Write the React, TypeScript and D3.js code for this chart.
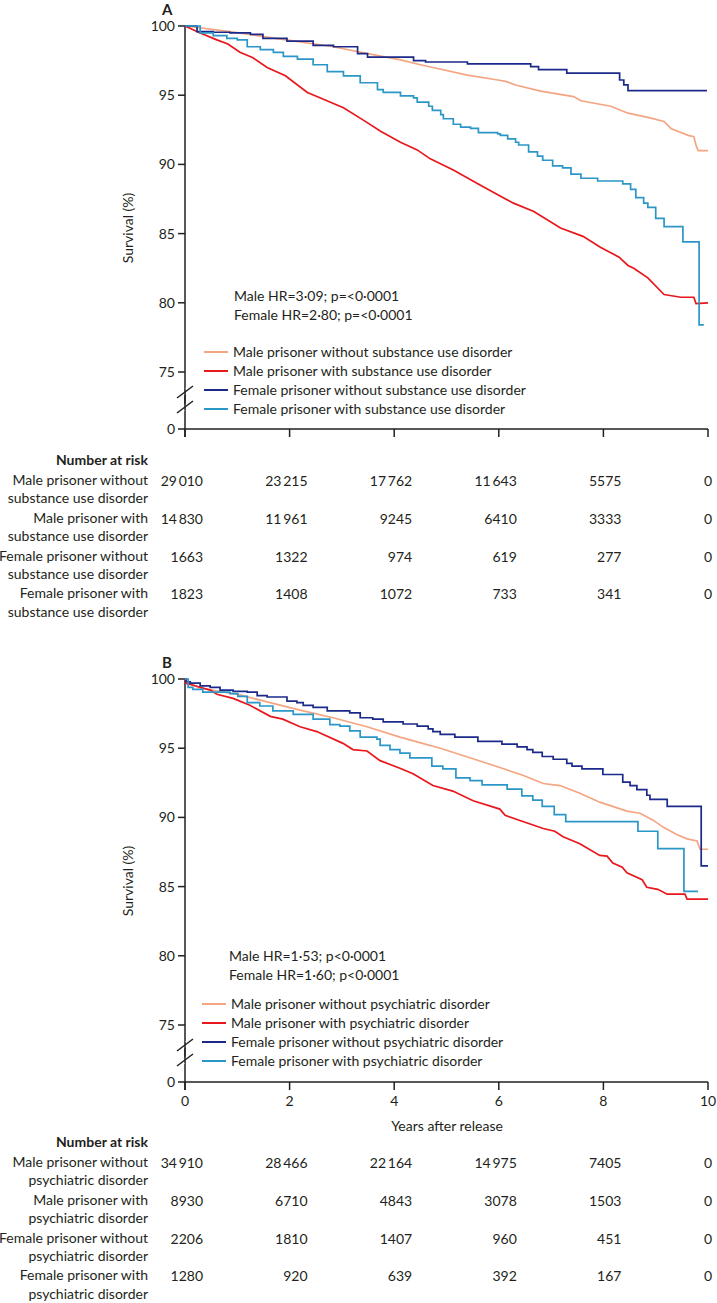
import * as d3 from 'd3'

type Pt = [number, number]

const riskYears = [0, 2, 4, 6, 8, 10]
const survivalTicks = [75, 80, 85, 90, 95, 100]
const seriesColors = ['#f4a582', '#e8171c', '#1b2a8a', '#2a97c7']
// smooth (large groups) vs step (small groups)
const stepped = [false, false, true, true]

// Panel A: substance use disorder
const maleWithoutSudA: Pt[] = [[0,100],[0.86,99.6],[1.57,99.2],[2.2,98.85],[2.84,98.5],[3.49,98.0],[4.12,97.55],[4.5,97.2],[4.74,97.0],[5.4,96.45],[5.98,96.1],[6.13,96.0],[6.32,95.74],[6.8,95.3],[7.43,94.9],[7.57,94.6],[8.14,94.2],[8.47,93.7],[8.85,93.4],[9.16,93.1],[9.29,92.6],[9.62,92.1],[9.73,92.0],[9.77,91.4],[9.81,91.0],[10,91.0]]
const maleWithSudA: Pt[] = [[0,100],[0.29,99.5],[0.61,99.0],[0.82,98.7],[1.05,98.1],[1.3,97.7],[1.57,97.0],[1.92,96.4],[2.34,95.2],[2.59,94.8],[3.03,94.1],[3.41,93.2],[3.74,92.4],[4.12,91.6],[4.44,91.05],[4.69,90.4],[5.13,89.6],[5.65,88.5],[6.13,87.5],[6.28,87.2],[6.67,86.6],[7.18,85.4],[7.61,84.8],[7.95,84.0],[8.3,83.3],[8.47,82.7],[8.58,82.5],[8.85,81.8],[9.16,80.6],[9.48,80.4],[9.73,80.4],[9.77,79.95],[10,80.0]]
const femaleWithoutSudA: Pt[] = [[0,100],[0.23,99.6],[0.54,99.55],[0.86,99.5],[1.25,99.4],[1.49,99.1],[1.95,98.9],[2.45,98.6],[2.84,98.5],[3.3,98.0],[3.49,97.75],[4.37,97.5],[4.6,97.4],[5.4,97.26],[6.61,97.06],[6.76,96.85],[7.3,96.6],[8.31,96.1],[8.39,95.74],[8.47,95.33],[9.98,95.33]]
const femaleWithSudA: Pt[] = [[0,100],[0.29,99.5],[0.54,99.3],[0.8,99.1],[1.0,99.0],[1.19,98.5],[1.44,98.3],[1.69,98.1],[1.88,97.8],[2.15,97.6],[2.45,97.2],[2.72,96.7],[3.03,96.4],[3.35,95.9],[3.68,95.4],[3.79,95.2],[4.12,94.95],[4.37,94.8],[4.44,94.5],[4.66,94.2],[4.73,93.9],[4.89,93.6],[4.94,93.3],[5.13,92.9],[5.27,92.7],[5.46,92.6],[5.61,92.3],[5.98,92.2],[6.03,92.1],[6.17,91.85],[6.32,91.6],[6.38,91.4],[6.57,90.9],[6.74,90.6],[6.84,90.3],[7.03,89.9],[7.22,89.75],[7.38,89.3],[7.57,89.0],[7.89,88.8],[8.37,88.6],[8.52,88.2],[8.62,87.6],[8.77,87.2],[8.85,86.9],[9.0,86.1],[9.16,85.5],[9.52,84.4],[9.83,78.4],[9.92,78.4]]

// Panel B: psychiatric disorder
const maleWithoutPsyB: Pt[] = [[0,100],[0.02,99.8],[0.29,99.35],[1.05,98.85],[1.57,98.35],[2.2,97.75],[2.83,97.2],[3.48,96.55],[4.11,95.8],[4.49,95.4],[4.88,95.0],[5.7,94.0],[6.46,93.05],[6.85,92.45],[7.17,92.3],[7.55,91.75],[7.93,91.1],[8.45,90.45],[8.7,90.3],[8.95,89.8],[9.14,89.3],[9.41,88.75],[9.6,88.45],[9.79,88.3],[9.85,87.7],[10,87.7]]
const maleWithPsyB: Pt[] = [[0,100],[0.01,99.7],[0.29,99.4],[0.48,99.2],[0.61,98.9],[0.92,98.6],[1.24,98.1],[1.63,97.3],[1.87,97.1],[2.2,96.55],[2.52,96.2],[3.02,95.35],[3.21,94.9],[3.48,94.8],[3.73,94.1],[4.11,93.55],[4.36,93.15],[4.74,92.3],[5.12,91.9],[5.51,91.2],[6.02,90.6],[6.12,90.15],[6.46,89.7],[6.85,89.2],[7.07,89.0],[7.23,88.6],[7.55,88.1],[7.93,87.25],[8.07,87.2],[8.18,86.7],[8.36,86.4],[8.45,86.0],[8.74,85.5],[8.83,84.95],[9.04,84.8],[9.22,84.45],[9.56,84.45],[9.6,84.1],[10,84.1]]
const femaleWithoutPsyB: Pt[] = [[0,100],[0.02,99.8],[0.1,99.7],[0.29,99.5],[0.48,99.4],[0.67,99.2],[0.92,99.1],[1.19,99.05],[1.38,98.8],[1.57,98.7],[1.95,98.4],[2.14,98.3],[2.26,98.1],[2.45,97.95],[2.72,97.7],[3.15,97.55],[3.35,97.2],[3.59,97.1],[3.79,96.9],[4.17,96.75],[4.44,96.6],[4.65,96.4],[4.74,96.2],[4.88,96.0],[5.16,95.8],[5.6,95.5],[6.06,95.3],[6.35,95.1],[6.54,94.9],[6.65,94.7],[6.83,94.4],[7.04,94.2],[7.3,93.9],[7.4,93.7],[7.59,93.5],[7.99,93.1],[8.37,92.55],[8.51,92.3],[8.64,92.0],[8.83,91.6],[8.89,91.3],[9.22,90.8],[9.87,86.5],[10,86.5]]
const femaleWithPsyB: Pt[] = [[0,100],[0.06,99.4],[0.15,99.25],[0.34,99.05],[0.86,98.95],[1.01,98.75],[1.19,98.3],[1.43,98.05],[1.68,97.7],[2.07,97.45],[2.45,97.1],[2.77,96.7],[2.96,96.6],[3.15,96.25],[3.35,95.8],[3.67,95.65],[3.73,95.2],[3.92,94.9],[4.11,94.65],[4.3,94.3],[4.72,93.7],[4.93,93.5],[5.18,92.85],[5.45,92.65],[5.68,92.35],[6.16,92.05],[6.44,91.55],[6.65,91.25],[6.83,90.8],[7.06,90.2],[7.28,89.7],[8.66,89.0],[9.04,87.75],[9.54,84.65],[9.81,84.65]]

const legendA = [
  'Male prisoner without substance use disorder',
  'Male prisoner with substance use disorder',
  'Female prisoner without substance use disorder',
  'Female prisoner with substance use disorder',
]
const legendB = [
  'Male prisoner without psychiatric disorder',
  'Male prisoner with psychiatric disorder',
  'Female prisoner without psychiatric disorder',
  'Female prisoner with psychiatric disorder',
]
const hrA = ['Male HR=3·09; p=<0·0001', 'Female HR=2·80; p=<0·0001']
const hrB = ['Male HR=1·53; p<0·0001', 'Female HR=1·60; p<0·0001']

const riskLabelsA = [
  ['Male prisoner without', 'substance use disorder'],
  ['Male prisoner with', 'substance use disorder'],
  ['Female prisoner without', 'substance use disorder'],
  ['Female prisoner with', 'substance use disorder'],
]
const riskLabelsB = [
  ['Male prisoner without', 'psychiatric disorder'],
  ['Male prisoner with', 'psychiatric disorder'],
  ['Female prisoner without', 'psychiatric disorder'],
  ['Female prisoner with', 'psychiatric disorder'],
]
const riskA = [
  [29010, 23215, 17762, 11643, 5575, 0],
  [14830, 11961, 9245, 6410, 3333, 0],
  [1663, 1322, 974, 619, 277, 0],
  [1823, 1408, 1072, 733, 341, 0],
]
const riskB = [
  [34910, 28466, 22164, 14975, 7405, 0],
  [8930, 6710, 4843, 3078, 1503, 0],
  [2206, 1810, 1407, 960, 451, 0],
  [1280, 920, 639, 392, 167, 0],
]

const FONT = 'Lato, "Noto Sans", sans-serif'
const FS = 14

const fmt = (n: number) => {
  const s = String(n)
  return n >= 10000 ? s.slice(0, -3) + '\u2009' + s.slice(-3) : s
}

const x = d3.scaleLinear().domain([0, 10]).range([185, 708])

function Panel(props: {
  dy: number
  letter: string
  series: Pt[][]
  hr: string[]
  hrTop: number
  hrX: number
  legend: string[]
  legendTop: number
  legendX: number
  riskLabels: string[][]
  risk: number[][]
  tableTop: number
  xLabels: boolean
}) {
  const { dy } = props
  const y = d3.scaleLinear().domain([75, 100]).range([372 + dy, 26 + dy])
  const zeroY = 429 + dy
  const x0 = x(0)
  const lineSmooth = d3.line<Pt>().x(d => x(d[0])).y(d => y(d[1])).curve(d3.curveLinear)
  const lineStep = d3.line<Pt>().x(d => x(d[0])).y(d => y(d[1])).curve(d3.curveStepAfter)
  const breaks = [392 + dy, 407 + dy]

  return (
    <g fontFamily={FONT} fontSize={FS} fill="#231f20">
      <text x={162} y={10 + dy} dy="0.35em" fontWeight="bold" fontSize={15}>{props.letter}</text>
      <text transform={`translate(128,${228 + dy}) rotate(-90)`} textAnchor="middle" dy="0.35em">Survival (%)</text>

      {/* y axis */}
      <line x1={x0} x2={x0} y1={y(100)} y2={zeroY + 8} stroke="#231f20" strokeWidth={1.5} />
      {survivalTicks.map(t => (
        <g key={t}>
          <line x1={x0 - 7} x2={x0} y1={y(t)} y2={y(t)} stroke="#231f20" strokeWidth={1.5} />
          <text x={x0 - 10} y={y(t)} dy="0.35em" textAnchor="end">{t}</text>
        </g>
      ))}
      <line x1={x0 - 7} x2={x0} y1={zeroY} y2={zeroY} stroke="#231f20" strokeWidth={1.5} />
      <text x={x0 - 10} y={zeroY} dy="0.35em" textAnchor="end">0</text>
      {breaks.map((b, i) => (
        <g key={i}>
          <line x1={x0 - 6} x2={x0 + 6} y1={b + 6} y2={b - 6} stroke="#fff" strokeWidth={4} />
          <line x1={x0 - 8} x2={x0 + 8} y1={b + 6} y2={b - 6} stroke="#231f20" strokeWidth={1.5} />
        </g>
      ))}
      <line x1={x0} x2={x0} y1={breaks[0] - 3} y2={breaks[1] + 3} stroke="#231f20" strokeWidth={1.5} />

      {/* x axis */}
      <line x1={x0} x2={x(10)} y1={zeroY} y2={zeroY} stroke="#231f20" strokeWidth={1.5} />
      {riskYears.map(t => (
        <g key={t}>
          <line x1={x(t)} x2={x(t)} y1={zeroY} y2={zeroY + 8} stroke="#231f20" strokeWidth={1.5} />
          {props.xLabels && (
            <text x={x(t)} y={zeroY + 19} dy="0.35em" textAnchor="middle">{t}</text>
          )}
        </g>
      ))}
      {props.xLabels && (
        <text x={447} y={zeroY + 44} dy="0.35em" textAnchor="middle">Years after release</text>
      )}

      {/* curves */}
      {props.series.map((s, i) => (
        <path
          key={i}
          d={(stepped[i] ? lineStep : lineSmooth)(s) || ''}
          fill="none"
          stroke={seriesColors[i]}
          strokeWidth={1.7}
        />
      ))}

      {/* HR text */}
      {props.hr.map((h, i) => (
        <text key={i} x={props.hrX} y={props.hrTop + i * 19} dy="0.35em">{h}</text>
      ))}

      {/* legend */}
      {props.legend.map((l, i) => (
        <g key={i}>
          <line
            x1={props.legendX}
            x2={props.legendX + 24}
            y1={props.legendTop + i * 19}
            y2={props.legendTop + i * 19}
            stroke={seriesColors[i]}
            strokeWidth={2}
          />
          <text x={props.legendX + 29} y={props.legendTop + i * 19} dy="0.35em">{l}</text>
        </g>
      ))}

      {/* number at risk */}
      <text x={148} y={props.tableTop} dy="0.35em" textAnchor="end" fontWeight="bold">Number at risk</text>
      {props.riskLabels.map((lab, i) => {
        const ry = props.tableTop + 20 + i * 37.8
        return (
          <g key={i}>
            <text x={148} y={ry} dy="0.35em" textAnchor="end">{lab[0]}</text>
            <text x={148} y={ry + 18.5} dy="0.35em" textAnchor="end">{lab[1]}</text>
            {props.risk[i].map((n, j) => (
              <text
                key={j}
                x={j === riskYears.length - 1 ? x(riskYears[j]) + 4 : x(riskYears[j]) + 18}
                y={ry + 1}
                dy="0.35em"
                textAnchor="end"
              >
                {fmt(n)}
              </text>
            ))}
          </g>
        )
      })}
    </g>
  )
}

export default function App() {
  return (
    <svg
      width={717}
      height={1303}
      style={{ position: 'absolute', left: 0, top: 0, background: '#fff' }}
    >
      <rect width={717} height={1303} fill="#fff" />
      <Panel
        dy={0}
        letter="A"
        series={[maleWithoutSudA, maleWithSudA, femaleWithoutSudA, femaleWithSudA]}
        hr={hrA}
        hrTop={296}
        hrX={234}
        legend={legendA}
        legendTop={352}
        legendX={204}
        riskLabels={riskLabelsA}
        risk={riskA}
        tableTop={460}
        xLabels={false}
      />
      <Panel
        dy={653}
        letter="B"
        series={[maleWithoutPsyB, maleWithPsyB, femaleWithoutPsyB, femaleWithPsyB]}
        hr={hrB}
        hrTop={956}
        hrX={229}
        legend={legendB}
        legendTop={1004}
        legendX={202}
        riskLabels={riskLabelsB}
        risk={riskB}
        tableTop={1142}
        xLabels={true}
      />
    </svg>
  )
}
